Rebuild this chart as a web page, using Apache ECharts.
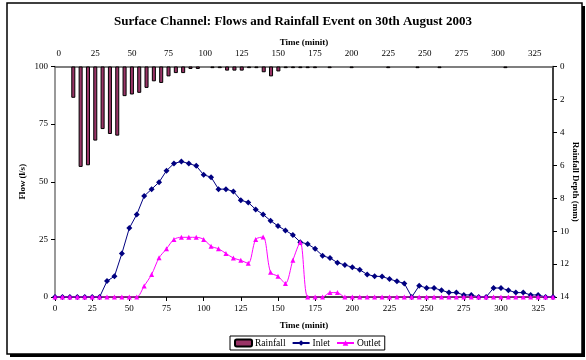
<!DOCTYPE html>
<html>
<head>
<meta charset="utf-8">
<script src="https://cdn.jsdelivr.net/npm/echarts@6/dist/echarts.min.js"></script>
<style>
  html, body { margin: 0; padding: 0; background: #fff; }
  #chart { width: 586px; height: 360px; }
</style>
</head>
<body>
<div id="chart"></div>
<script>
// Sampling times (minutes), one reading every 5 minutes
const minutes = [0, 5, 10, 15, 20, 25, 30, 35, 40, 45, 50, 55, 60, 65, 70, 75, 80, 85, 90, 95,
  100, 105, 110, 115, 120, 125, 130, 135, 140, 145, 150, 155, 160, 165, 170, 175, 180, 185, 190, 195,
  200, 205, 210, 215, 220, 225, 230, 235, 240, 245, 250, 255, 260, 265, 270, 275, 280, 285, 290, 295,
  300, 305, 310, 315, 320, 325, 330, 335];

// Rainfall depth per interval (mm)
const rainfall = [0, 0, 1.9, 6.1, 6.0, 4.5, 3.8, 4.1, 4.2, 1.8, 1.7, 1.6, 1.3, 0.9, 1.0, 0.6, 0.4, 0.4, 0.15, 0.15,
  0, 0.1, 0.1, 0.25, 0.25, 0.25, 0.1, 0.1, 0.35, 0.6, 0.3, 0.1, 0.1, 0.1, 0.1, 0.1, 0, 0.1, 0, 0,
  0.1, 0, 0, 0, 0, 0.1, 0, 0, 0, 0.1, 0, 0, 0.1, 0, 0, 0, 0, 0, 0, 0,
  0, 0.1, 0, 0, 0, 0, 0, 0];

// Inlet flow (l/s)
const inlet = [0, 0, 0, 0, 0, 0, 0, 6.9, 9.0, 18.9, 29.9, 35.8, 43.8, 46.8, 49.8, 54.8, 57.9, 58.8, 57.9, 56.9,
  53.0, 52.0, 46.8, 46.8, 45.8, 42.0, 41.0, 38.0, 35.8, 33.1, 30.8, 28.9, 26.9, 23.8, 23.0, 20.9, 17.9, 16.9, 14.9, 13.9,
  12.9, 11.8, 9.8, 9.0, 8.9, 7.8, 6.8, 5.9, 0, 4.9, 3.9, 3.9, 2.9, 1.9, 1.9, 0.9, 0.9, 0, 0, 3.9,
  3.9, 2.9, 1.9, 1.9, 0.9, 0.9, 0, 0];

// Outlet flow (l/s)
const outlet = [0, 0, 0, 0, 0, 0, 0, 0, 0, 0, 0, 0, 4.8, 9.8, 17.0, 20.9, 25.0, 25.9, 25.9, 25.9,
  25.0, 22.0, 20.9, 18.9, 16.9, 15.9, 14.6, 25.0, 26.0, 10.7, 9.0, 5.9, 15.9, 23.8, 0, 0, 0, 1.9, 1.9, 0,
  0, 0, 0, 0, 0, 0, 0, 0, 0, 0, 0, 0, 0, 0, 0, 0, 0, 0, 0, 0,
  0, 0, 0, 0, 0, 0, 0, 0];

const FONT = "'Liberation Serif', 'Times New Roman', serif";
const labelStyle = { fontFamily: FONT, fontSize: 9, color: '#000' };
const nameStyle = { fontFamily: FONT, fontSize: 9, fontWeight: 'bold', color: '#000' };

const chart = echarts.init(document.getElementById('chart'), null, { renderer: 'canvas' });

chart.setOption({
  backgroundColor: '#fff',
  animation: false,
  title: {
    text: 'Surface Channel: Flows and Rainfall Event on 30th August 2003',
    left: 'center',
    top: 10,
    textStyle: { fontFamily: FONT, fontSize: 13, fontWeight: 'bold', color: '#000' }
  },
  graphic: [
    // chart frame with a drop shadow
    { type: 'rect', z: -10, silent: true, shape: { x: 10, y: 6, width: 575, height: 351 },
      style: { fill: '#000' } },
    { type: 'rect', z: -9, silent: true, shape: { x: 7, y: 3, width: 575, height: 351 },
      style: { fill: '#fff', stroke: '#000', lineWidth: 1.5 } }
  ],
  legend: {
    left: 230,
    top: 336,
    padding: [2, 4],
    itemGap: 6,
    itemWidth: 17,
    itemHeight: 7,
    borderColor: '#000',
    borderWidth: 1,
    backgroundColor: '#fff',
    textStyle: { fontFamily: FONT, fontSize: 9.5, color: '#000', padding: [0, 0, 0, -2] },
    data: ['Rainfall', 'Inlet', 'Outlet']
  },
  grid: { left: 55, right: 33, top: 66.5, bottom: 63, containLabel: false, outerBoundsMode: 'none' },
  xAxis: [
    {
      type: 'value',
      position: 'bottom',
      min: 0, max: 335, interval: 25,
      name: 'Time (minit)',
      nameLocation: 'middle',
      nameGap: 24,
      nameMoveOverlap: false,
      nameTextStyle: nameStyle,
      axisLine: { lineStyle: { color: '#000', width: 1.5 } },
      axisTick: { length: 4, inside: false, lineStyle: { color: '#000' } },
      axisLabel: Object.assign({ margin: 7, showMaxLabel: false }, labelStyle),
      splitLine: { show: false }
    },
    {
      type: 'category',
      position: 'top',
      data: minutes.map(String),
      boundaryGap: true,
      name: 'Time (minit)',
      nameLocation: 'middle',
      nameGap: 19,
      nameMoveOverlap: false,
      nameTextStyle: nameStyle,
      axisLine: { lineStyle: { color: '#555', width: 1.5 } },
      axisTick: { interval: 4, length: 4, alignWithLabel: false, lineStyle: { color: '#000' } },
      axisLabel: Object.assign({ interval: 4, margin: 8 }, labelStyle),
      splitLine: { show: false }
    }
  ],
  yAxis: [
    {
      type: 'value',
      position: 'left',
      min: 0, max: 100, interval: 25,
      name: 'Flow (l/s)',
      nameLocation: 'middle',
      nameRotate: 90,
      nameGap: 28,
      nameMoveOverlap: false,
      nameTextStyle: nameStyle,
      axisLine: { show: true, lineStyle: { color: '#777', width: 1.5 } },
      axisTick: { show: true, length: 4, lineStyle: { color: '#000' } },
      axisLabel: Object.assign({ margin: 7 }, labelStyle),
      splitLine: { show: false }
    },
    {
      type: 'value',
      position: 'right',
      min: 0, max: 14, interval: 2,
      inverse: true,
      name: 'Rainfall Depth (mm)',
      nameLocation: 'middle',
      nameRotate: -90,
      nameGap: 18,
      nameMoveOverlap: false,
      nameTextStyle: nameStyle,
      axisLine: { show: true, lineStyle: { color: '#000', width: 1.5 } },
      axisTick: { show: true, length: 4, lineStyle: { color: '#000' } },
      axisLabel: Object.assign({ margin: 7 }, labelStyle),
      splitLine: { show: false }
    }
  ],
  series: [
    {
      name: 'Rainfall',
      type: 'bar',
      xAxisIndex: 1,
      yAxisIndex: 1,
      barWidth: '55%',
      // dry intervals get no bar at all
      data: rainfall.map(v => (v === 0 ? '-' : v)),
      itemStyle: { color: '#993366', borderColor: '#000', borderWidth: 1 },
      z: 2
    },
    {
      name: 'Inlet',
      type: 'line',
      xAxisIndex: 0,
      yAxisIndex: 0,
      data: minutes.map((m, i) => [m, inlet[i]]),
      symbol: 'diamond',
      symbolSize: 6,
      showAllSymbol: true,
      lineStyle: { color: '#000080', width: 1 },
      itemStyle: { color: '#000080' },
      z: 3
    },
    {
      name: 'Outlet',
      type: 'line',
      xAxisIndex: 0,
      yAxisIndex: 0,
      data: minutes.map((m, i) => [m, outlet[i]]),
      smooth: 0.3,
      symbol: 'triangle',
      symbolSize: 5,
      showAllSymbol: true,
      lineStyle: { color: '#ff00ff', width: 1 },
      itemStyle: { color: '#ff00ff' },
      z: 4
    }
  ]
});
</script>
</body>
</html>
